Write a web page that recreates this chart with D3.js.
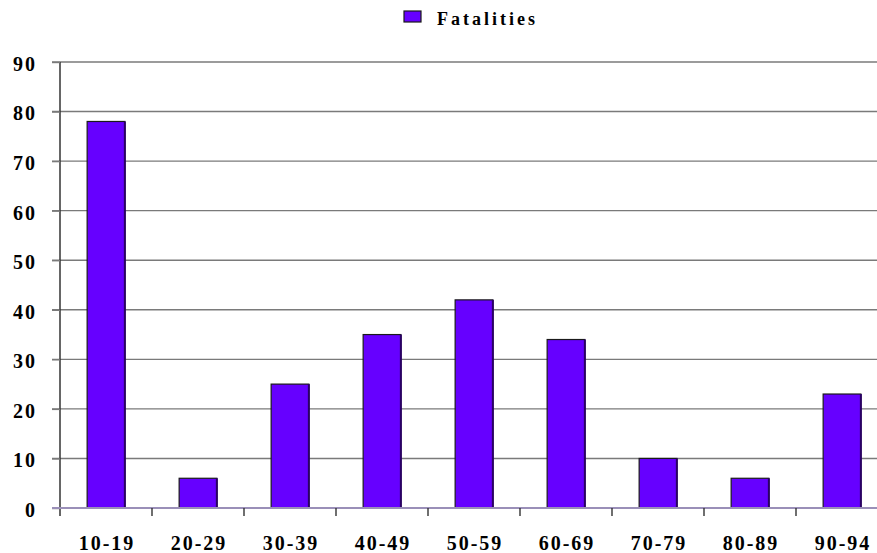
<!DOCTYPE html>
<html>
<head>
<meta charset="utf-8">
<script src="https://cdn.jsdelivr.net/npm/d3@7"></script>
<style>
  html, body { margin: 0; padding: 0; background: #fff; overflow: hidden; }
  svg { display: block; }
  text { font-family: "Liberation Serif", "Times New Roman", serif; font-weight: bold; fill: #000; }
</style>
</head>
<body>
<script>
// Fatalities by age group
const categories = ["10-19", "20-29", "30-39", "40-49", "50-59", "60-69", "70-79", "80-89", "90-94"];
const fatalities = [78, 6, 25, 35, 42, 34, 10, 6, 23];
const yTicks = [0, 10, 20, 30, 40, 50, 60, 70, 80, 90];
const seriesName = "Fatalities";

const W = 877, H = 553;
const margin = { left: 60, top: 62, bottom: 45 };
const plotW = 828;               // plot runs slightly past the right edge
const plotH = H - margin.top - margin.bottom;

const svg = d3.select("body").append("svg").attr("width", W).attr("height", H);

const x = d3.scaleBand().domain(categories).range([0, plotW]).paddingInner(0.59).paddingOuter(0.295);
const y = d3.scaleLinear().domain([0, 90]).range([plotH, 0]);

const g = svg.append("g").attr("transform", `translate(${margin.left},${margin.top})`);

// horizontal gridlines
g.selectAll("line.grid").data(yTicks.filter(d => d > 0)).join("line")
  .attr("class", "grid")
  .attr("x1", -8).attr("x2", plotW)
  .attr("y1", d => y(d)).attr("y2", d => y(d))
  .attr("stroke", "#7a7a7a").attr("stroke-width", 1.4);

// bars
const bars = g.selectAll("g.bar").data(categories.map((c, i) => ({ c, v: fatalities[i] }))).join("g").attr("class", "bar");
bars.append("rect")
  .attr("x", d => x(d.c)).attr("y", d => y(d.v))
  .attr("width", x.bandwidth()).attr("height", d => plotH - y(d.v))
  .attr("fill", "#6600ff").attr("stroke", "#1a1a1a").attr("stroke-width", 1.2);
// darker right edge
bars.append("line")
  .attr("x1", d => x(d.c) + x.bandwidth()).attr("x2", d => x(d.c) + x.bandwidth())
  .attr("y1", d => y(d.v)).attr("y2", plotH)
  .attr("stroke", "#2a0066").attr("stroke-width", 2);

// y axis
const yAxis = g.append("g").call(d3.axisLeft(y).tickValues(yTicks).tickSize(8).tickPadding(15));
yAxis.select(".domain").attr("stroke", "#333").attr("stroke-width", 1.5).attr("d", `M0,${plotH + 8}V0`);
yAxis.selectAll(".tick line").attr("stroke", "#7a7a7a").attr("stroke-width", 1.4);
yAxis.selectAll(".tick text").style("font-size", "20px").style("letter-spacing", "2px")
  .style("font-family", "Liberation Serif, serif").style("font-weight", "bold").attr("fill", "#000")
  .attr("dy", "0.42em");

// x axis
const xTickPos = d3.range(1, categories.length).map(i => i * plotW / categories.length);
g.append("line").attr("x1", -8).attr("x2", plotW).attr("y1", plotH).attr("y2", plotH)
  .attr("stroke", "#9a8fb8").attr("stroke-width", 2);
g.selectAll("line.xtick").data(xTickPos).join("line").attr("class", "xtick")
  .attr("x1", d => d).attr("x2", d => d).attr("y1", plotH).attr("y2", plotH + 8)
  .attr("stroke", "#333").attr("stroke-width", 1.4);
g.selectAll("text.xlab").data(categories).join("text").attr("class", "xlab")
  .attr("x", d => x(d) + x.bandwidth() / 2 + 1).attr("y", plotH + 42)
  .attr("text-anchor", "middle").style("font-size", "20px").style("letter-spacing", "2px")
  .text(d => d);

// legend
const leg = svg.append("g").attr("transform", "translate(404,11)");
leg.append("rect").attr("width", 17).attr("height", 11).attr("fill", "#6600ff").attr("stroke", "#1a1a1a").attr("stroke-width", 1.2);
leg.append("text").attr("x", 33).attr("y", 14).style("font-size", "18px").style("letter-spacing", "3px").text(seriesName);
</script>
</body>
</html>
